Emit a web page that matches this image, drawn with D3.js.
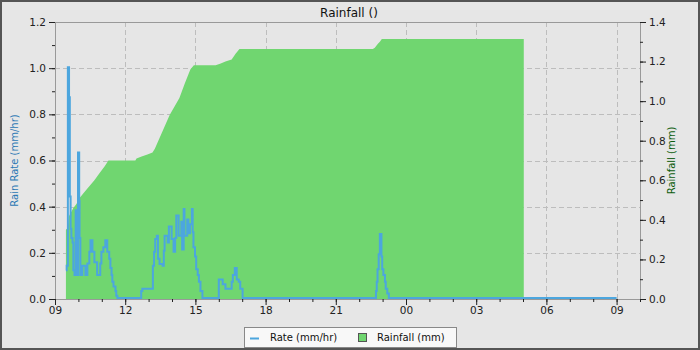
<!DOCTYPE html>
<html>
<head>
<meta charset="utf-8">
<script src="https://cdn.jsdelivr.net/npm/d3@7"></script>
<style>
body { margin: 0; background: #e6e6e6; }
text { font-family: "DejaVu Sans", sans-serif; }
</style>
</head>
<body>
<div id="graph"></div>
<script>
// rainfall accumulation (mm), right axis
var rainTimes = ["09:28","09:33","09:36","09:47","09:55","10:03","10:15","10:28","10:41","10:54","11:07","11:17",
    "12:26","12:29","12:42","12:57","13:10","13:16","13:54","14:19","14:33","14:47","14:56","15:52","16:05","16:17",
    "16:33","16:43","16:53","22:35","22:40","22:48","22:53","22:58","05:02"];
var rainValues = [0.35,0.36,0.42,0.46,0.48,0.51,0.54,0.57,0.60,0.635,0.67,0.70,
    0.70,0.71,0.72,0.73,0.74,0.76,0.93,1.016,1.09,1.16,1.182,1.182,1.19,1.20,
    1.21,1.24,1.263,1.263,1.27,1.29,1.30,1.314,1.314];

// rain rate (mm/hr), left axis
var rateTimes = ["09:28","09:30","09:33","09:36","09:38","09:40","09:42","09:45","09:47","09:50","09:53",
    "09:56","09:59","10:02","10:03","10:05","10:10","10:18","10:23","10:28","10:31","10:36","10:41","10:48","10:56",
    "10:59","11:04","11:09","11:14","11:19","11:22","11:25","11:27","11:30","11:35","11:37","11:40",
    "12:41","12:44","13:11","13:14","13:17","13:21","13:24","13:28","13:36","13:39","13:41","13:49","13:52","13:59",
    "14:04","14:08","14:11","14:17","14:24","14:26","14:30","14:32","14:39","14:42","14:46","14:51","14:53","14:55",
    "14:59","15:02","15:06","15:09","15:13","15:18",
    "16:00","16:10","16:17","16:33","16:36","16:41","16:46","16:51","16:55","17:01",
    "22:43","22:45","22:47","22:50","22:53","22:57","22:59","23:02","23:06","23:08","23:12","23:16","09:00"];
var rateValues = [0.12,0.14,1.00,0.87,0.44,0.30,0.26,0.24,0.12,0.10,0.38,
    0.10,0.63,0.42,0.26,0.10,0.14,0.10,0.15,0.20,0.25,0.20,0.155,0.10,0.15,
    0.20,0.22,0.25,0.20,0.17,0.13,0.10,0.07,0.05,0.03,0.01,0,
    0.03,0.04,0.14,0.20,0.256,0.27,0.17,0.147,0.14,0.205,0.27,0.24,0.31,0.256,
    0.20,0.26,0.357,0.27,0.33,0.21,0.386,0.27,0.34,0.28,0.32,0.386,0.285,0.22,
    0.18,0.125,0.10,0.07,0.03,0,
    0.08,0.06,0.04,0.07,0.10,0.13,0.08,0.07,0.04,0,
    0.03,0.07,0.125,0.19,0.277,0.18,0.125,0.10,0.07,0.04,0.02,0,0];

var leftTicks = [0, 0.2, 0.4, 0.6, 0.8, 1.0, 1.2];
var rightTicks = [0, 0.2, 0.4, 0.6, 0.8, 1.0, 1.2, 1.4];
var xStart = "09:00", xEnd = "10:00";

var width = 700, height = 350;
var margin = {top: 22, right: 60, bottom: 51, left: 55};
var day0 = new Date(2024, 0, 1);

// turn "HH:MM" list into dates, rolling into the next day when the clock goes back
function toDates(list)
{
    var out = [];
    var dayOff = 0, prev = -1;
    for (var i = 0; i < list.length; i++)
    {
        var p = list[i].split(":");
        var m = (+p[0]) * 60 + (+p[1]);
        if (m < prev) dayOff++;
        prev = m;
        out.push(new Date(day0.getTime() + (dayOff * 1440 + m) * 60000));
    }
    return out;
}

var rainDates = toDates(rainTimes);
var rateDates = toDates(rateTimes);
var rain = rainDates.map(function(d, i) { return {t: d, v: rainValues[i]}; });
var rate = rateDates.map(function(d, i) { return {t: d, v: rateValues[i]}; });
var dom = toDates([xStart, "12:00", xEnd]);

var x = d3.scaleTime()
    .domain([dom[0], dom[2]])
    .range([margin.left, width - margin.right]);
var yL = d3.scaleLinear().domain([0, 1.2]).range([height - margin.bottom, margin.top]);
var yR = d3.scaleLinear().domain([0, 1.4]).range([height - margin.bottom, margin.top]);

var svg = d3.select("#graph").append("svg")
    .attr("width", width)
    .attr("height", height);

svg.append("rect")
    .attr("x", 1).attr("y", 1)
    .attr("width", width - 2).attr("height", height - 2)
    .attr("fill", "#e6e6e6")
    .attr("stroke", "#555")
    .attr("stroke-width", 2);

var plotTop = margin.top, plotBot = height - margin.bottom;
var plotLeft = margin.left, plotRight = width - margin.right;

// grid
var grid = svg.append("g")
    .attr("stroke", "#bdbdbd")
    .attr("stroke-dasharray", "5,3");
grid.selectAll(".gy")
    .data(leftTicks.slice(1, -1))
    .enter().append("line")
    .attr("x1", plotLeft).attr("x2", plotRight)
    .attr("y1", function(d) { return Math.round(yL(d)) + 0.5; })
    .attr("y2", function(d) { return Math.round(yL(d)) + 0.5; });
grid.selectAll(".gx")
    .data(x.ticks(d3.timeHour.every(3)).slice(1))
    .enter().append("line")
    .attr("y1", plotTop).attr("y2", plotBot)
    .attr("x1", function(d) { return Math.round(x(d)) + 0.5; })
    .attr("x2", function(d) { return Math.round(x(d)) + 0.5; });

// rainfall area
var area = d3.area()
    .x(function(d) { return x(d.t); })
    .y0(yR(0))
    .y1(function(d) { return yR(d.v); });
svg.append("path")
    .datum(rain)
    .attr("d", area)
    .attr("fill", "#70d670");

// rate line
var line = d3.line()
    .curve(d3.curveStepAfter)
    .x(function(d) { return x(d.t); })
    .y(function(d) { return yL(d.v) - 1; });
svg.append("path")
    .datum(rate)
    .attr("d", line)
    .attr("fill", "none")
    .attr("stroke", "#4ca6de")
    .attr("stroke-width", 2);

// frame
svg.append("rect")
    .attr("x", plotLeft + 0.5).attr("y", plotTop + 0.5)
    .attr("width", plotRight - plotLeft).attr("height", plotBot - plotTop)
    .attr("fill", "none")
    .attr("stroke", "#999");

function styleAxis(g)
{
    g.select(".domain").remove();
    g.selectAll("line").attr("stroke", "#222");
    g.selectAll("text").attr("fill", "#222").style("font-size", "10.5px");
}

var fmt = d3.format(".1f");
svg.append("g")
    .attr("transform", "translate(" + plotLeft + ",0)")
    .call(d3.axisLeft(yL).tickValues(d3.range(0, 1.21, 0.1)).tickSize(3).tickFormat(""))
    .call(styleAxis);
svg.append("g")
    .attr("transform", "translate(" + plotLeft + ",0)")
    .call(d3.axisLeft(yL).tickValues(leftTicks).tickSize(6).tickPadding(3).tickFormat(fmt))
    .call(styleAxis);

svg.append("g")
    .attr("transform", "translate(" + plotRight + ",0)")
    .call(d3.axisRight(yR).tickValues(d3.range(0, 1.41, 0.1)).tickSize(3).tickFormat(""))
    .call(styleAxis);
svg.append("g")
    .attr("transform", "translate(" + plotRight + ",0)")
    .call(d3.axisRight(yR).tickValues(rightTicks).tickSize(6).tickPadding(3).tickFormat(fmt))
    .call(styleAxis);

svg.append("g")
    .attr("transform", "translate(0," + plotBot + ")")
    .call(d3.axisBottom(x).ticks(d3.timeHour.every(1)).tickSize(3).tickFormat(""))
    .call(styleAxis);
svg.append("g")
    .attr("transform", "translate(0," + plotBot + ")")
    .call(d3.axisBottom(x).ticks(d3.timeHour.every(3)).tickSize(6).tickPadding(2).tickFormat(d3.timeFormat("%H")))
    .call(styleAxis);

// titles
svg.append("text")
    .attr("x", 349).attr("y", 17)
    .attr("text-anchor", "middle")
    .style("font-size", "12px")
    .attr("fill", "#111")
    .text("Rainfall ()");

svg.append("text")
    .attr("transform", "translate(18," + ((plotTop + plotBot) / 2) + ") rotate(-90)")
    .attr("text-anchor", "middle")
    .style("font-size", "10px")
    .attr("fill", "#2a78b4")
    .text("Rain Rate (mm/hr)");

svg.append("text")
    .attr("transform", "translate(675," + ((plotTop + plotBot) / 2) + ") rotate(-90)")
    .attr("text-anchor", "middle")
    .style("font-size", "10px")
    .attr("fill", "#0c5c0c")
    .text("Rainfall (mm)");

// legend
var lg = svg.append("g");
lg.append("rect")
    .attr("x", 244.5).attr("y", 327.5)
    .attr("width", 212).attr("height", 20)
    .attr("fill", "#f8f8f8")
    .attr("stroke", "#888");
lg.append("line")
    .attr("x1", 250).attr("x2", 259)
    .attr("y1", 338.5).attr("y2", 338.5)
    .attr("stroke", "#4ca6de")
    .attr("stroke-width", 2);
lg.append("text")
    .attr("x", 270).attr("y", 341)
    .style("font-size", "10px")
    .attr("fill", "#111")
    .text("Rate (mm/hr)");
lg.append("rect")
    .attr("x", 358.5).attr("y", 333.5)
    .attr("width", 8).attr("height", 8)
    .attr("fill", "#70d670")
    .attr("stroke", "#555");
lg.append("text")
    .attr("x", 377).attr("y", 341)
    .style("font-size", "10px")
    .attr("fill", "#111")
    .text("Rainfall (mm)");
</script>
</body>
</html>
